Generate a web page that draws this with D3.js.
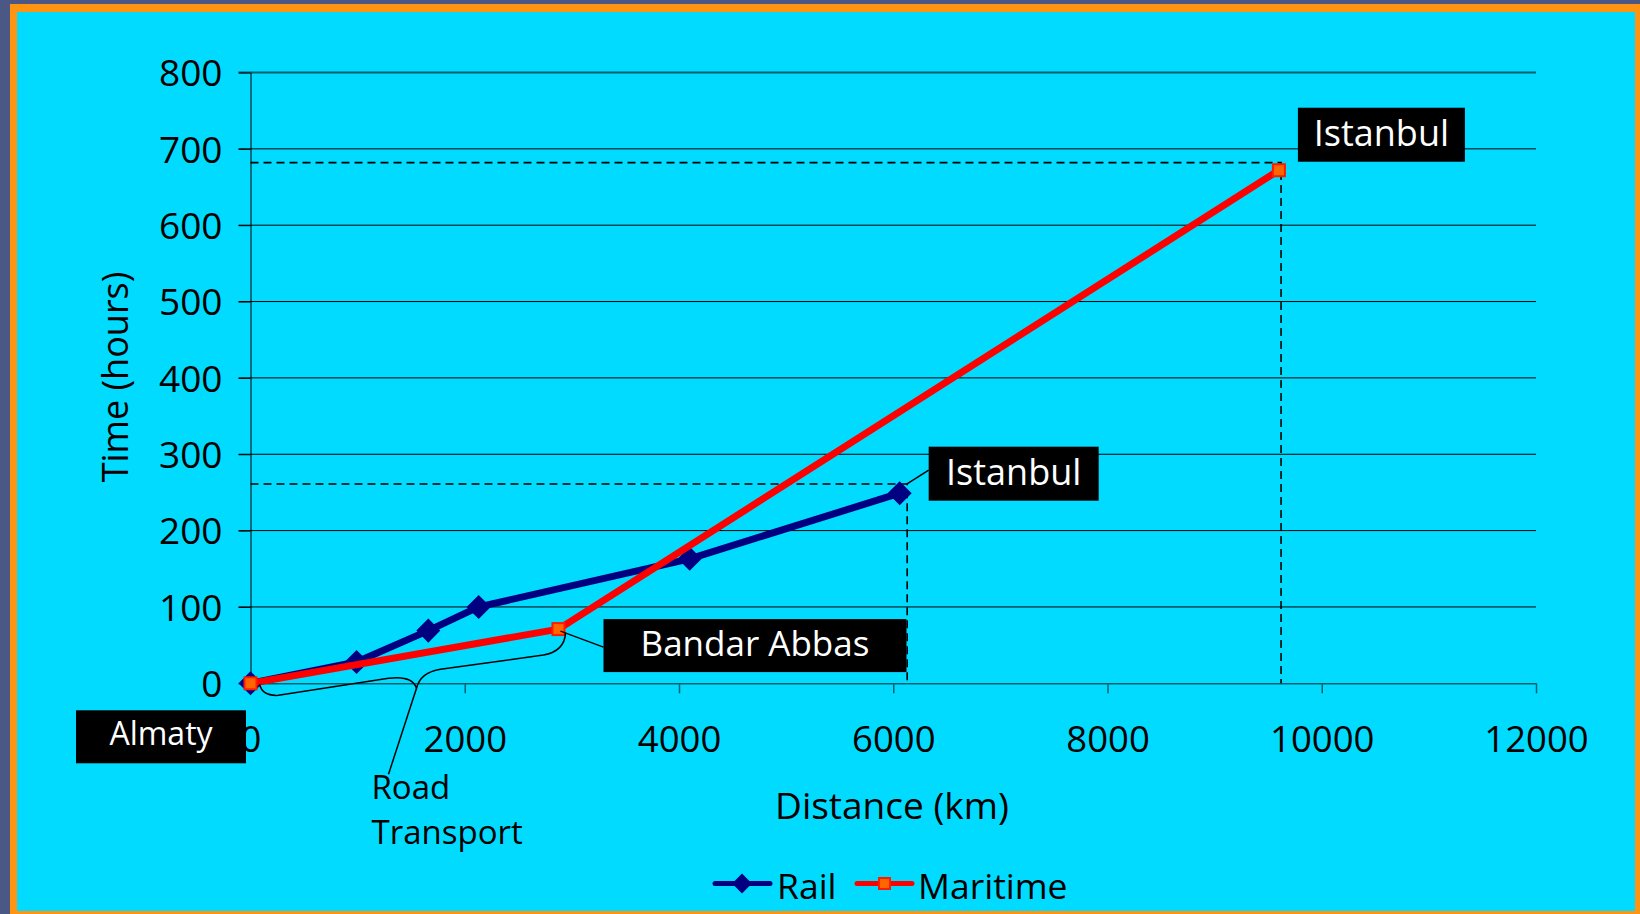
<!DOCTYPE html>
<html>
<head>
<meta charset="utf-8">
<script src="https://cdn.jsdelivr.net/npm/d3@7"></script>
<style>
  body { margin: 0; background: #4b5886; }
  svg { display: block; }
  text { font-family: "Open Sans", sans-serif; }
</style>
</head>
<body>
<script>
// chart values
var railDistance = [0, 990, 1660, 2130, 4100, 6060];
var railTime = [0, 28, 69, 100, 163, 249];
var maritimeDistance = [0, 2875, 9600];
var maritimeTime = [0, 71, 672];
var xTicks = [0, 2000, 4000, 6000, 8000, 10000, 12000];
var yTicks = [0, 100, 200, 300, 400, 500, 600, 700, 800];
// hand drawn dashed guides (distance, time)
var guideDistance = [6130, 9620];
var guideTime = [261, 682];
var seriesNames = ["Rail", "Maritime"];

var svgWidth = 1640;
var svgHeight = 914;

var svg = d3.select("body")
  .append("svg")
  .attr("width", svgWidth)
  .attr("height", svgHeight);

// slide frame
svg.append("rect").attr("x", 0).attr("y", 0).attr("width", svgWidth).attr("height", svgHeight)
  .attr("fill", "#4b5886");
svg.append("rect").attr("x", 10).attr("y", 4).attr("width", 1640).attr("height", 920)
  .attr("fill", "#ff9312");
svg.append("rect").attr("x", 17).attr("y", 12).attr("width", 1618).attr("height", 899)
  .attr("fill", "#00dbff");

var x = d3.scaleLinear().domain([0, 12000]).range([250.5, 1536]);
var y = d3.scaleLinear().domain([0, 800]).range([683.3, 72.5]);

var rail = railDistance.map(function(d, i) { return {x: d, y: railTime[i]}; });
var maritime = maritimeDistance.map(function(d, i) { return {x: d, y: maritimeTime[i]}; });

// gridlines
svg.append("g").selectAll("line")
  .data(yTicks.filter(function(d) { return d > 0 && d < 800; }))
  .enter().append("line")
  .attr("x1", x(0) - 12).attr("x2", x(12000))
  .attr("y1", function(d) { return y(d); }).attr("y2", function(d) { return y(d); })
  .attr("stroke", "#000").attr("stroke-width", 1);
svg.append("line")
  .attr("x1", x(0) - 12).attr("x2", x(12000))
  .attr("y1", y(800)).attr("y2", y(800))
  .attr("stroke", "#00606e").attr("stroke-width", 2);

// axes
var bottomAxis = d3.axisBottom(x).tickValues(xTicks).tickSize(10).tickSizeOuter(0)
  .tickFormat(d3.format("d"));
var leftAxis = d3.axisLeft(y).tickValues(yTicks).tickSize(12).tickSizeOuter(0)
  .tickFormat(d3.format("d"));

var gx = svg.append("g")
  .attr("transform", "translate(0," + y(0) + ")")
  .call(bottomAxis);
gx.select(".domain").attr("stroke", "#00606e").attr("stroke-width", 1.5);
gx.selectAll(".tick line").attr("stroke", "#00606e").attr("stroke-width", 1.5);
gx.selectAll("text").attr("y", 69).attr("dy", null)
  .attr("fill", "#000").style("font-size", "36.5px");

var gy = svg.append("g")
  .attr("transform", "translate(" + x(0) + ",0)")
  .call(leftAxis);
gy.select(".domain").attr("stroke", "#000").attr("stroke-width", 1);
gy.selectAll(".tick line").attr("stroke", "#000").attr("stroke-width", 1);
gy.selectAll("text").attr("x", -28).attr("dy", "0.36em")
  .attr("fill", "#000").style("font-size", "37px");

// axis titles
svg.append("text")
  .attr("transform", "translate(128,377) rotate(-90)")
  .attr("text-anchor", "middle")
  .style("font-size", "36px")
  .text("Time (hours)");
svg.append("text")
  .attr("x", 892).attr("y", 819)
  .attr("text-anchor", "middle")
  .style("font-size", "37px")
  .text("Distance (km)");

// dashed guides
guideDistance.forEach(function(d, i) {
  svg.append("polyline")
    .attr("points", [[x(0), y(guideTime[i])], [x(d), y(guideTime[i])], [x(d), y(0)]].join(" "))
    .attr("fill", "none").attr("stroke", "#000")
    .attr("stroke-width", 1.6).attr("stroke-dasharray", "8,5");
});

var line = d3.line().x(function(d) { return x(d.x); }).y(function(d) { return y(d.y); });

// rail series
svg.append("path").datum(rail)
  .attr("d", line)
  .attr("fill", "none").attr("stroke", "#000080").attr("stroke-width", 7)
  .attr("stroke-linejoin", "round");
svg.append("g").selectAll("rect")
  .data(rail)
  .enter().append("rect")
  .attr("x", -8.5).attr("y", -8.5).attr("width", 17).attr("height", 17)
  .attr("transform", function(d) { return "translate(" + x(d.x) + "," + y(d.y) + ") rotate(45)"; })
  .attr("fill", "#000080");

// maritime series
svg.append("path").datum(maritime)
  .attr("d", line)
  .attr("fill", "none").attr("stroke", "#ff0000").attr("stroke-width", 7)
  .attr("stroke-linejoin", "round");
svg.append("g").selectAll("rect")
  .data(maritime)
  .enter().append("rect")
  .attr("x", function(d) { return x(d.x) - 6; })
  .attr("y", function(d) { return y(d.y) - 6; })
  .attr("width", 12).attr("height", 12)
  .attr("fill", "#ff6600").attr("stroke", "#ff1a00").attr("stroke-width", 2);

// annotations
var A = [x(maritime[0].x), y(maritime[0].y)];
var B = [x(maritime[1].x), y(maritime[1].y)];
var C = [x(maritime[2].x), y(maritime[2].y)];
var R = [x(rail[rail.length - 1].x), y(rail[rail.length - 1].y)];

// curly brace for road transport
var tip = [A[0] + 166, A[1] + 5];
svg.append("path")
  .attr("d",
    "M" + (A[0] + 9) + "," + (A[1] + 1) +
    "Q" + (A[0] + 12) + "," + (A[1] + 13) + " " + (A[0] + 28) + "," + (A[1] + 12) +
    "L" + (A[0] + 138) + "," + (A[1] - 5) +
    "Q" + (A[0] + 162) + "," + (A[1] - 8) + " " + tip[0] + "," + tip[1] +
    "Q" + (A[0] + 170) + "," + (A[1] - 11) + " " + (A[0] + 190) + "," + (A[1] - 14) +
    "L" + (B[0] - 15) + "," + (B[1] + 26) +
    "Q" + (B[0] + 6) + "," + (B[1] + 22) + " " + (B[0] + 7) + "," + (B[1] + 4))
  .attr("fill", "none").attr("stroke", "#000").attr("stroke-width", 1.5);
svg.append("line")
  .attr("x1", tip[0]).attr("y1", tip[1])
  .attr("x2", tip[0] - 28).attr("y2", tip[1] + 86)
  .attr("stroke", "#000").attr("stroke-width", 1.5);
var road = svg.append("text")
  .attr("x", tip[0] - 45).attr("y", tip[1] + 111)
  .style("font-size", "33px");
road.append("tspan").attr("x", tip[0] - 45).text("Road");
road.append("tspan").attr("x", tip[0] - 45).attr("dy", 45).text("Transport");

// leader lines
svg.append("line")
  .attr("x1", R[0] + 7).attr("y1", R[1] - 9)
  .attr("x2", R[0] + 29).attr("y2", R[1] - 23)
  .attr("stroke", "#000").attr("stroke-width", 1.5);
svg.append("line")
  .attr("x1", B[0] + 2).attr("y1", B[1] + 2)
  .attr("x2", B[0] + 45).attr("y2", B[1] + 18)
  .attr("stroke", "#000").attr("stroke-width", 1.5);

// black label boxes
var labels = [
  {text: "Istanbul", px: C, dx: 19, dy: -62.5, w: 167, h: 54, size: 36, base: 38.5},
  {text: "Istanbul", px: R, dx: 29, dy: -46.5, w: 170, h: 54, size: 36, base: 37.8},
  {text: "Bandar Abbas", px: B, dx: 45, dy: -10, w: 303, h: 53, size: 35, base: 36.8},
  {text: "Almaty", px: A, dx: -174.5, dy: 27, w: 170, h: 53, size: 32, base: 34.3}
];
labels.forEach(function(l) {
  var g = svg.append("g")
    .attr("transform", "translate(" + (l.px[0] + l.dx) + "," + (l.px[1] + l.dy) + ")");
  g.append("rect").attr("width", l.w).attr("height", l.h).attr("fill", "#000");
  g.append("text")
    .attr("x", l.w / 2).attr("y", l.base)
    .attr("text-anchor", "middle").attr("fill", "#fff")
    .style("font-size", l.size + "px")
    .text(l.text);
});

// legend
var legend = svg.append("g").attr("transform", "translate(0,883.5)");
legend.append("line").attr("x1", 715).attr("x2", 770)
  .attr("stroke", "#000080").attr("stroke-width", 5).attr("stroke-linecap", "round");
legend.append("rect").attr("x", -7).attr("y", -7).attr("width", 14).attr("height", 14)
  .attr("transform", "translate(742,0) rotate(45)").attr("fill", "#000080");
legend.append("text").attr("x", 777).attr("y", 15).style("font-size", "35.5px").text(seriesNames[0]);
legend.append("line").attr("x1", 857).attr("x2", 912)
  .attr("stroke", "#ff0000").attr("stroke-width", 5).attr("stroke-linecap", "round");
legend.append("rect").attr("x", 879).attr("y", -5.5).attr("width", 11).attr("height", 11)
  .attr("fill", "#ff6600").attr("stroke", "#ff1a00").attr("stroke-width", 2);
legend.append("text").attr("x", 918).attr("y", 15).style("font-size", "35.5px").text(seriesNames[1]);
</script>
</body>
</html>
